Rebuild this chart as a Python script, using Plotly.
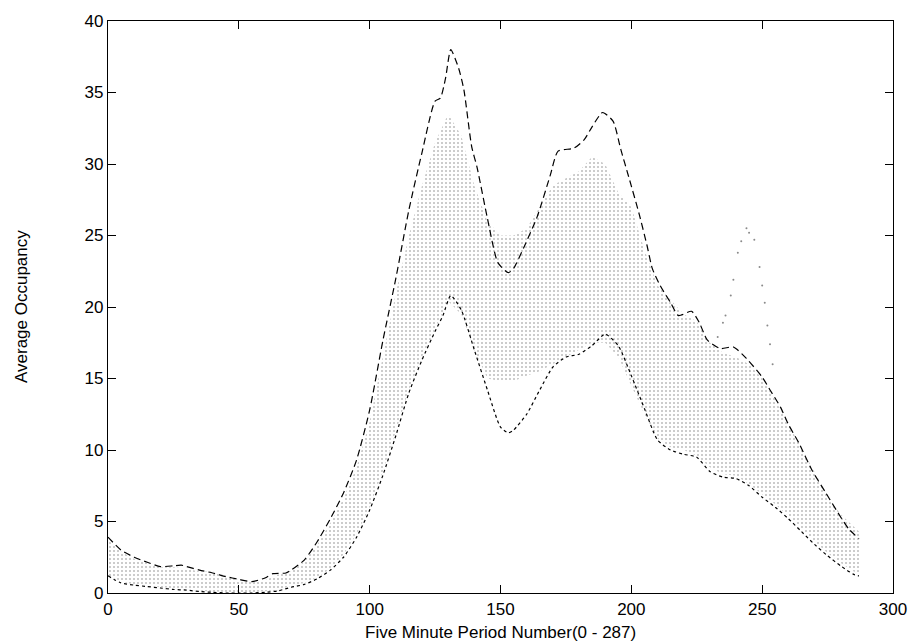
import plotly.graph_objects as go

# ---- data ----
upper_x = [0, 5, 10, 15, 20, 25, 28, 30, 35, 40, 45, 50, 55, 60, 63, 68, 70, 75, 80, 85,
           90, 95, 100, 105, 110, 115, 120, 125, 127, 129, 131, 134, 136, 139, 141, 145,
           149, 153, 155, 159, 164, 169, 172, 178, 182, 185, 189, 193, 196, 199, 203, 206,
           208, 211, 215, 218, 223, 226, 229, 234, 239, 244, 250, 253, 257, 260, 264, 269,
           274, 279, 283, 287]
upper_y = [3.9, 3.0, 2.5, 2.15, 1.85, 1.9, 1.95, 1.85, 1.6, 1.4, 1.15, 0.95, 0.8, 1.05, 1.35,
           1.4, 1.6, 2.3, 3.6, 5.2, 7.0, 9.3, 12.8, 17.6, 22.0, 26.8, 30.8, 34.4, 34.6, 36.0,
           38.0, 36.7, 35.2, 31.2, 29.8, 26.2, 23.1, 22.4, 22.7, 24.2, 26.3, 29.2, 30.9, 31.1,
           31.7, 32.6, 33.6, 33.0, 31.0, 29.1, 26.5, 24.3, 22.7, 21.5, 20.3, 19.4, 19.7, 18.9,
           17.7, 17.1, 17.2, 16.4, 15.1, 14.2, 13.0, 11.8, 10.5, 8.6, 7.1, 5.6, 4.5, 3.8]

lower_x = [0, 5, 10, 15, 20, 25, 30, 35, 40, 45, 50, 55, 60, 65, 70, 75, 80, 85, 90, 95,
           100, 105, 110, 115, 120, 125, 128, 131, 135, 140, 145, 150, 153, 155, 160, 165,
           170, 175, 180, 185, 190, 195, 200, 205, 210, 215, 220, 225, 230, 235, 240, 245,
           250, 255, 260, 265, 270, 275, 280, 285, 287]
lower_y = [1.2, 0.7, 0.55, 0.45, 0.35, 0.25, 0.2, 0.1, 0.05, 0.0, 0.0, 0.0, 0.05, 0.15, 0.4,
           0.6, 1.0, 1.6, 2.5, 3.9, 5.8, 8.2, 11.0, 14.0, 16.3, 18.3, 19.4, 20.8, 19.8, 17.0,
           14.2, 11.6, 11.2, 11.4, 12.5, 14.2, 15.8, 16.5, 16.7, 17.3, 18.1, 17.3, 15.2, 12.9,
           10.7, 10.0, 9.7, 9.5, 8.5, 8.1, 8.0, 7.5, 6.7, 6.0, 5.2, 4.3, 3.4, 2.6, 1.9, 1.3, 1.2]

cloud_x = [0, 5, 10, 15, 20, 25, 30, 35, 40, 45, 50, 55, 60, 65, 70, 75, 80, 85, 90, 95,
           100, 105, 110, 115, 120, 125, 130, 135, 140, 145, 150, 155, 160, 165, 170, 175,
           180, 185, 190, 195, 200, 205, 210, 215, 220, 225, 230, 235, 240, 245, 250, 255,
           260, 265, 270, 275, 280, 285, 287]
cloud_low = [1.2, 0.8, 0.6, 0.5, 0.4, 0.3, 0.25, 0.15, 0.1, 0.05, 0.05, 0.05, 0.1, 0.2, 0.5,
             0.7, 1.1, 1.7, 2.7, 4.1, 6.0, 8.5, 11.3, 14.2, 16.5, 18.5, 20.4, 19.5, 17.0, 15.0,
             14.8, 14.8, 15.2, 15.5, 16.0, 16.5, 17.0, 17.5, 17.5, 16.5, 14.5, 12.5, 10.8,
             10.2, 10.0, 9.6, 8.8, 8.3, 8.2, 7.6, 6.9, 6.2, 5.4, 4.5, 3.6, 2.8, 2.1, 1.5, 1.4]
cloud_high = [3.7, 2.9, 2.4, 2.1, 1.8, 1.8, 1.7, 1.5, 1.5, 1.2, 0.9, 0.8, 0.9, 1.3, 1.5,
              2.2, 3.4, 4.9, 6.6, 8.8, 12.0, 16.5, 21.0, 25.0, 28.5, 31.5, 33.5, 32.0, 28.5,
              26.0, 25.0, 25.0, 25.5, 27.0, 28.5, 29.0, 29.5, 30.5, 30.0, 28.0, 27.0, 24.0,
              21.5, 20.5, 19.5, 19.0, 17.5, 16.8, 16.5, 16.0, 15.0, 13.5, 11.8, 10.2, 8.4,
              6.8, 5.5, 4.6, 4.3]

spike_x = [233, 235, 236, 238, 239, 240.7, 242, 244, 245, 247, 249, 250, 251, 252, 253, 254]
spike_y = [17.9, 18.9, 19.4, 20.8, 21.9, 23.8, 24.6, 25.5, 25.2, 24.7, 22.8, 21.5, 20.3,
           18.7, 17.4, 16.0]

x_ticks = [0, 50, 100, 150, 200, 250, 300]
y_ticks = [0, 5, 10, 15, 20, 25, 30, 35, 40]

FONT = "Liberation Sans, Arial, sans-serif"
FS = 17

fig = go.Figure()

# dot cloud (observations) as a dotted band
fig.add_trace(go.Scatter(x=cloud_x, y=cloud_low, mode="lines", line=dict(width=0),
                         hoverinfo="skip", showlegend=False))
fig.add_trace(go.Scatter(x=cloud_x, y=cloud_high, mode="lines", line=dict(width=0),
                         fill="tonexty", fillcolor="rgba(0,0,0,0)",
                         fillpattern=dict(shape=".", fgcolor="#808080", bgcolor="rgba(0,0,0,0)",
                                          size=4, solidity=0.22),
                         hoverinfo="skip", showlegend=False))
fig.add_trace(go.Scatter(x=spike_x, y=spike_y, mode="markers",
                         marker=dict(size=2, color="#8a8a8a"), showlegend=False))

# envelopes
fig.add_trace(go.Scatter(x=upper_x, y=upper_y, mode="lines",
                         line=dict(color="black", width=1.2, dash="7px,4px", shape="spline",
                                   smoothing=0.6),
                         showlegend=False))
fig.add_trace(go.Scatter(x=lower_x, y=lower_y, mode="lines",
                         line=dict(color="black", width=1.2, dash="3px,3px", shape="spline",
                                   smoothing=0.6),
                         showlegend=False))

axis_common = dict(showgrid=False, zeroline=False, showline=True, linecolor="black",
                   linewidth=1.3, mirror="ticks", ticks="inside", ticklen=8,
                   tickcolor="black", tickwidth=1.2, automargin=False,
                   ticklabeloverflow="allow",
                   tickfont=dict(family=FONT, size=FS, color="black"))

fig.update_xaxes(range=[0, 300], tickvals=x_ticks, ticktext=[str(v) for v in x_ticks],
                 **axis_common)
fig.update_yaxes(range=[0, 40], tickvals=y_ticks, ticktext=[str(v) for v in y_ticks],
                 **axis_common)

fig.update_layout(
    width=912, height=642,
    margin=dict(l=108, r=19, t=21, b=49, autoexpand=False),
    paper_bgcolor="white", plot_bgcolor="white",
    font=dict(family=FONT, size=FS, color="black"),
    annotations=[
        dict(text="Five Minute Period Number(0 - 287)", xref="paper", yref="paper",
             x=0.5, y=0, xanchor="center", yanchor="top", yshift=-28, showarrow=False,
             font=dict(family=FONT, size=FS, color="black")),
        dict(text="Average Occupancy", xref="paper", yref="paper", x=0, y=0.5,
             xanchor="center", yanchor="middle", xshift=-87, textangle=-90,
             showarrow=False, font=dict(family=FONT, size=FS, color="black")),
    ],
)

fig.write_html("out.html", config={"displayModeBar": False},
               post_script="document.body.style.margin='0';document.body.style.overflow='hidden';")
